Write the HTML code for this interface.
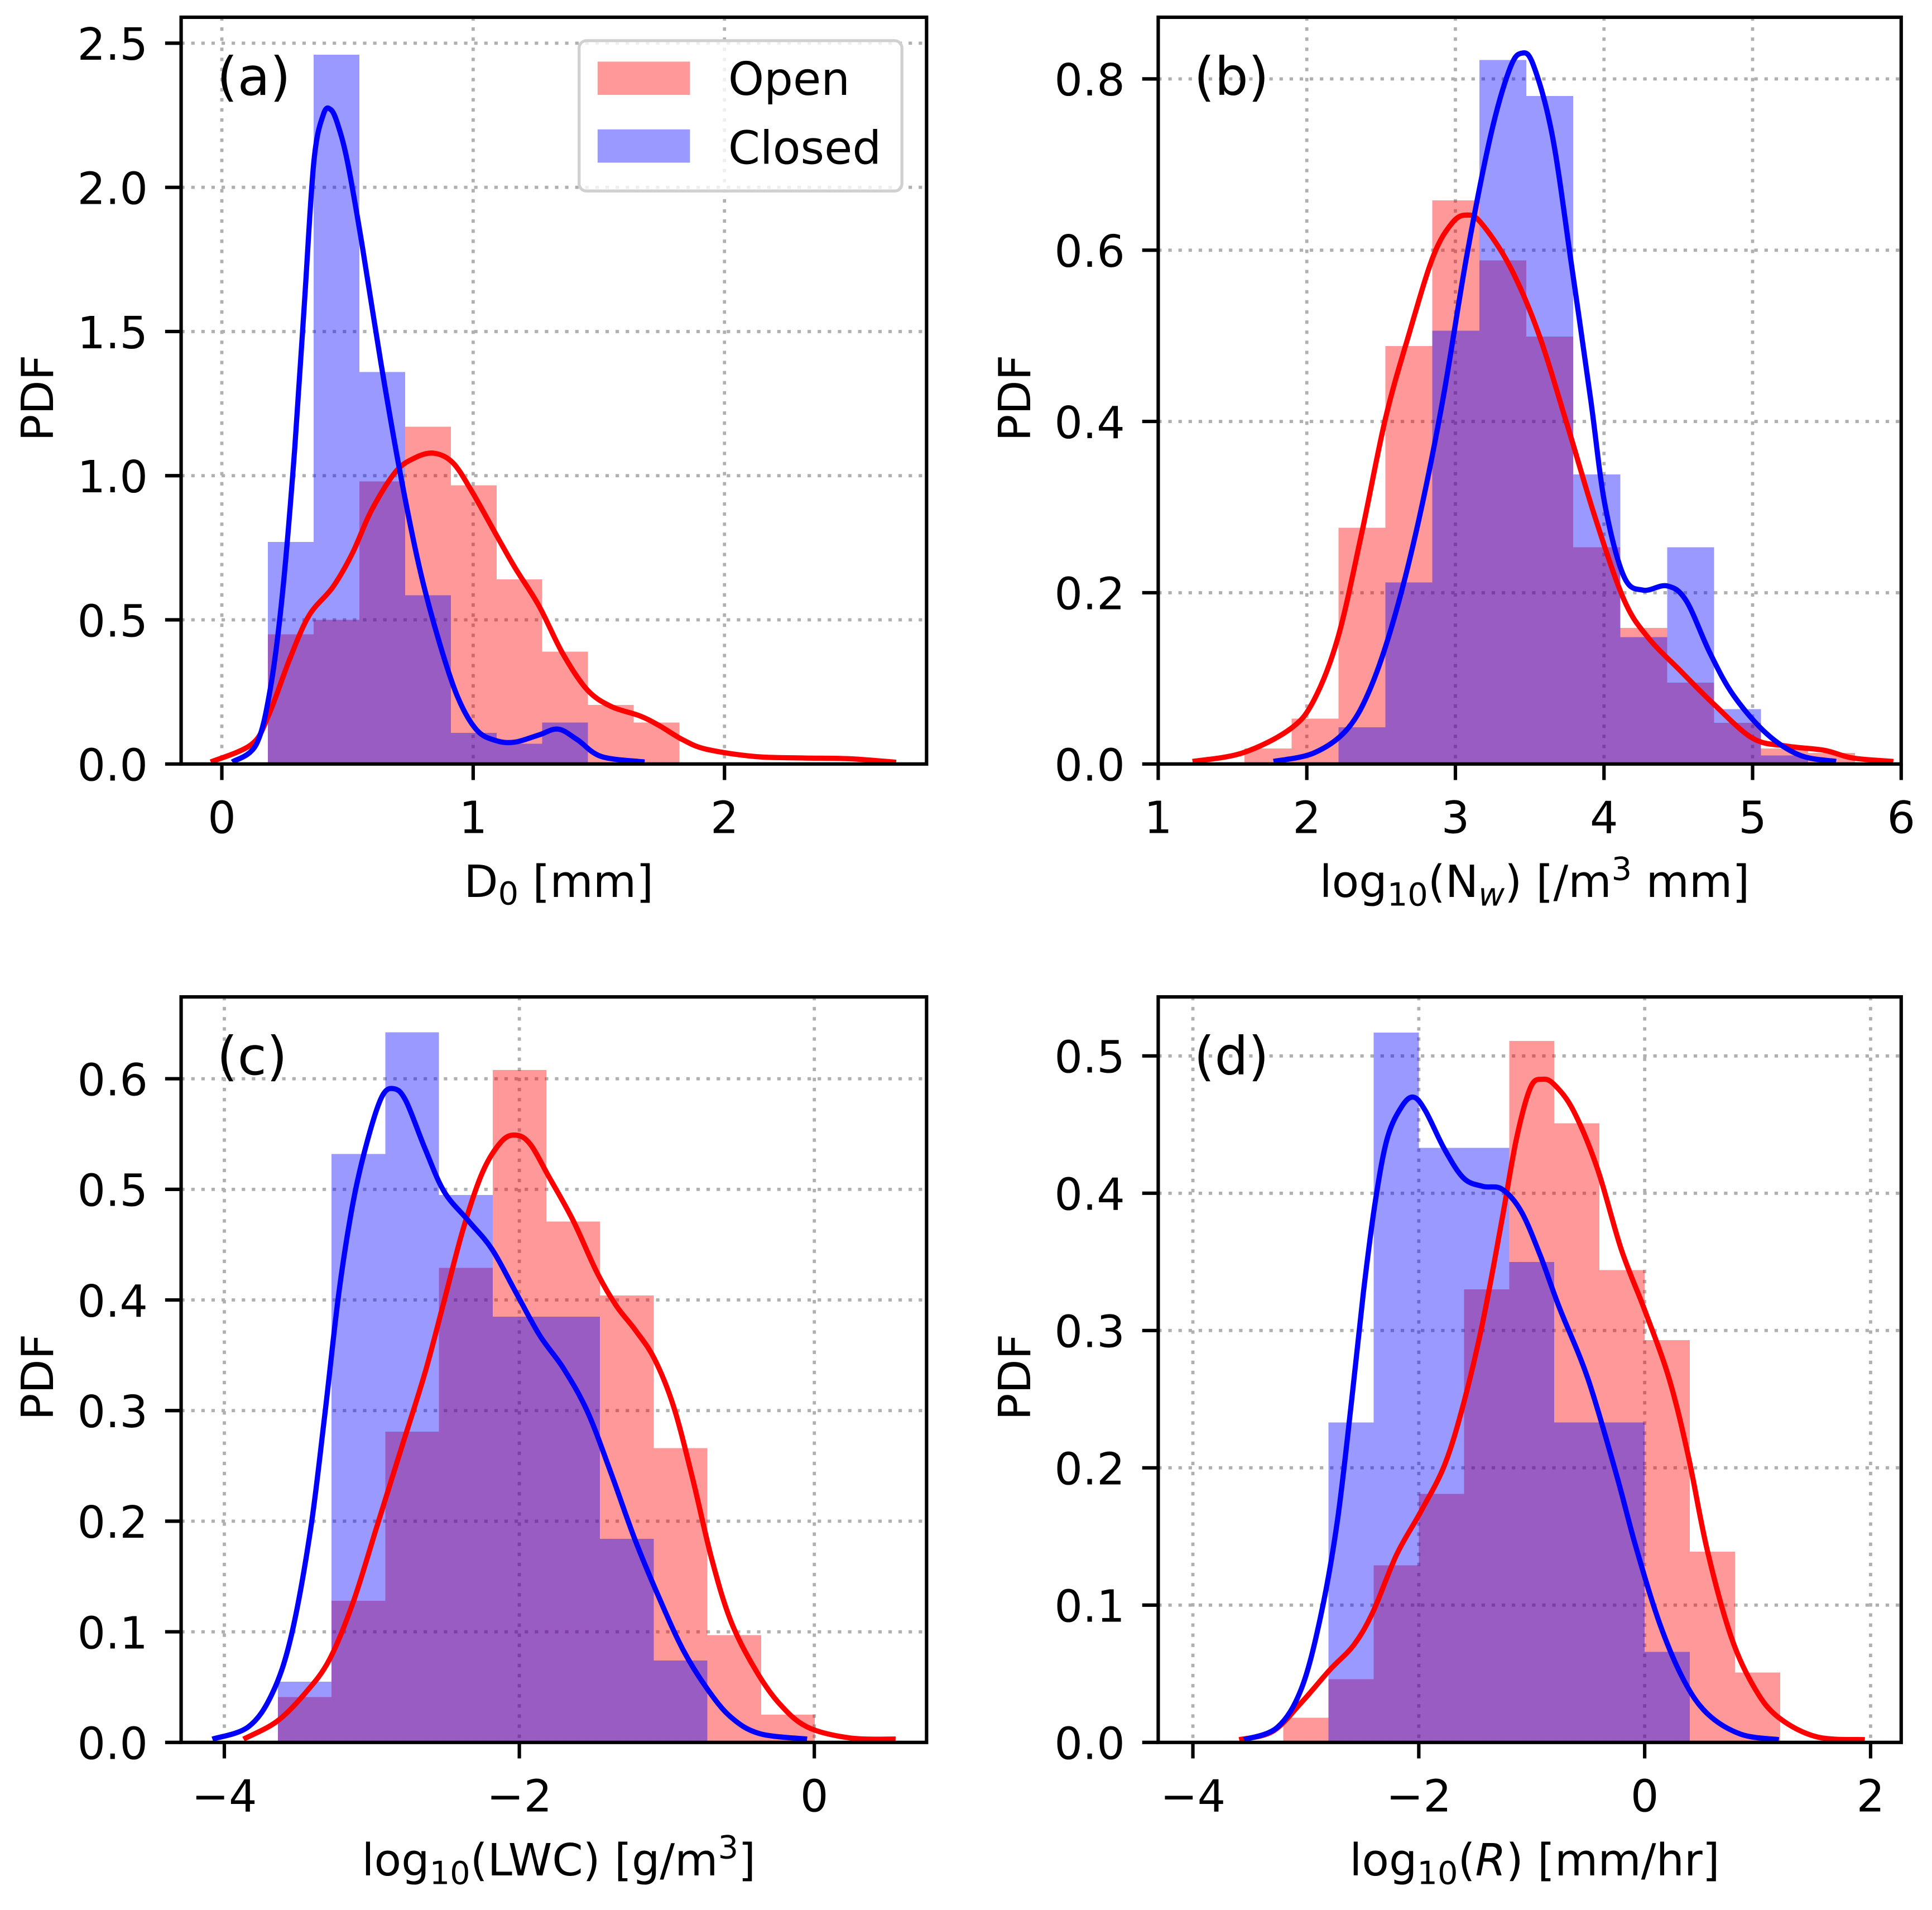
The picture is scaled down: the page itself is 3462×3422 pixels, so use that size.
<!DOCTYPE html>
<html><head><meta charset="utf-8">
<style>
html,body{margin:0;padding:0;background:#fff;}
svg{display:block;}
text{font-family:"DejaVu Sans","Liberation Sans",sans-serif;fill:#000;}
</style></head>
<body>
<svg id="fig" width="3462" height="3422" viewBox="0 0 1568 1550" preserveAspectRatio="none" xmlns="http://www.w3.org/2000/svg"></svg>
<script>
// ---------- Panel (a) D0 ----------
const aEdges0 = 0.183, aBinW = 0.182;
const aOpen = [0.45,0.5,0.98,1.17,0.967,0.64,0.39,0.205,0.144];
const aClosed = [0.77,2.46,1.36,0.585,0.108,0.07,0.144];
const aOpenKdeX = [-0.044,0.118,0.185,0.271,0.347,0.442,0.519,0.595,0.690,0.766,0.843,0.919,0.995,1.091,1.167,1.262,1.357,1.453,1.548,1.663,1.739,1.834,1.929,2.12,2.311,2.501,2.683];
const aOpenKdeY = [0.007,0.068,0.167,0.366,0.515,0.614,0.730,0.879,1.012,1.061,1.078,1.045,0.945,0.796,0.680,0.548,0.382,0.258,0.200,0.167,0.134,0.084,0.051,0.026,0.021,0.018,0.006];
const aClosedKdeX = [0.042,0.137,0.194,0.242,0.290,0.328,0.366,0.404,0.433,0.461,0.5,0.557,0.633,0.709,0.786,0.862,0.938,1.014,1.091,1.167,1.262,1.338,1.415,1.51,1.682];
const aClosedKdeY = [0.007,0.068,0.267,0.598,1.094,1.591,2.088,2.253,2.270,2.219,2.088,1.806,1.391,1.012,0.682,0.432,0.233,0.118,0.081,0.076,0.101,0.121,0.084,0.026,0.007];
const aXTicks = [0,1,2];
const aYTicks = [0,0.5,1.0,1.5,2.0,2.5];

// ---------- Panel (b) Nw ----------
const bEdges0 = 1.581, bBinW = 0.316;
const bOpen = [0.018,0.053,0.276,0.488,0.658,0.588,0.499,0.253,0.159,0.095,0.048,0.018,0.013];
const bClosed = [0,0,0.043,0.212,0.506,0.822,0.78,0.338,0.148,0.253,0.064,0.01,0];
const bOpenKdeX = [1.231,1.568,1.889,2.049,2.21,2.37,2.53,2.691,2.851,2.979,3.076,3.172,3.364,3.557,3.749,3.942,4.134,4.295,4.519,4.744,5.001,5.225,5.482,5.674,5.947];
const bOpenKdeY = [0.003,0.013,0.041,0.075,0.148,0.27,0.404,0.504,0.593,0.632,0.641,0.632,0.582,0.504,0.398,0.287,0.192,0.148,0.108,0.069,0.030,0.021,0.016,0.007,0.003];
const bClosedKdeX = [1.776,2.049,2.274,2.434,2.594,2.755,2.915,3.076,3.236,3.364,3.445,3.525,3.653,3.782,3.91,4.006,4.134,4.263,4.423,4.552,4.712,4.872,5.097,5.322,5.562];
const bClosedKdeY = [0.003,0.013,0.041,0.091,0.174,0.286,0.425,0.593,0.733,0.811,0.830,0.816,0.733,0.582,0.426,0.303,0.219,0.203,0.208,0.191,0.130,0.080,0.035,0.010,0.003];
const bXTicks = [1,2,3,4,5,6];
const bYTicks = [0,0.2,0.4,0.6,0.8];

// ---------- Panel (c) LWC ----------
const cEdges0 = -3.637, cBinW = 0.364;
const cOpen = [0.041,0.128,0.281,0.429,0.608,0.471,0.404,0.266,0.097,0.025];
const cClosed = [0.055,0.532,0.642,0.495,0.385,0.385,0.184,0.074,0,0];
const cOpenKdeX = [-3.870,-3.644,-3.449,-3.287,-3.126,-2.964,-2.802,-2.640,-2.510,-2.381,-2.251,-2.123,-2.024,-1.927,-1.798,-1.636,-1.474,-1.344,-1.215,-1.085,-0.955,-0.826,-0.696,-0.567,-0.405,-0.243,-0.049,0.243,0.551];
const cOpenKdeY = [0.003,0.019,0.045,0.075,0.127,0.196,0.265,0.334,0.399,0.464,0.515,0.543,0.549,0.541,0.511,0.472,0.425,0.395,0.373,0.347,0.304,0.239,0.166,0.110,0.067,0.036,0.014,0.004,0.003];
const cClosedKdeX = [-4.081,-3.838,-3.676,-3.547,-3.417,-3.320,-3.223,-3.126,-3.028,-2.931,-2.850,-2.769,-2.640,-2.510,-2.348,-2.186,-2.024,-1.862,-1.700,-1.538,-1.377,-1.215,-1.053,-0.891,-0.729,-0.567,-0.372,-0.049];
const cClosedKdeY = [0.003,0.014,0.044,0.096,0.191,0.295,0.407,0.489,0.545,0.584,0.591,0.580,0.537,0.498,0.472,0.446,0.407,0.368,0.338,0.299,0.243,0.183,0.131,0.084,0.049,0.023,0.008,0.003];
const cXTicks = [-4,-2,0];
const cYTicks = [0,0.1,0.2,0.3,0.4,0.5,0.6];

// ---------- Panel (d) R ----------
const dEdges0 = -3.2, dBinW = 0.4;
const dOpen = [0.018,0.046,0.129,0.181,0.33,0.511,0.451,0.344,0.293,0.139,0.051];
const dClosed = [0,0.233,0.517,0.433,0.433,0.35,0.233,0.233,0.066,0,0];
const dOpenKdeX = [-3.590,-3.294,-3.040,-2.786,-2.575,-2.406,-2.195,-1.983,-1.772,-1.603,-1.434,-1.265,-1.137,-1.011,-0.905,-0.799,-0.630,-0.419,-0.207,0.004,0.216,0.385,0.554,0.765,0.977,1.188,1.526,1.949];
const dOpenKdeY = [0.002,0.008,0.029,0.053,0.071,0.095,0.137,0.168,0.202,0.247,0.306,0.380,0.439,0.477,0.483,0.479,0.460,0.418,0.359,0.314,0.265,0.209,0.140,0.077,0.039,0.018,0.004,0.002];
const dClosedKdeX = [-3.548,-3.252,-3.040,-2.871,-2.723,-2.596,-2.490,-2.385,-2.279,-2.152,-2.047,-1.941,-1.772,-1.603,-1.433,-1.264,-1.095,-0.926,-0.757,-0.503,-0.250,-0.080,0.131,0.342,0.554,0.850,1.188];
const dClosedKdeY = [0.002,0.011,0.039,0.091,0.160,0.248,0.328,0.394,0.440,0.463,0.470,0.460,0.432,0.411,0.405,0.403,0.387,0.355,0.317,0.265,0.195,0.143,0.087,0.046,0.021,0.006,0.002];
const dXTicks = [-4,-2,0,2];
const dYTicks = [0,0.1,0.2,0.3,0.4,0.5];

const NS = "http://www.w3.org/2000/svg";
const svg = document.getElementById('fig');
function mk(tag, attrs, parent){
  const e = document.createElementNS(NS, tag);
  for (const k in attrs) e.setAttribute(k, attrs[k]);
  (parent||svg).appendChild(e);
  return e;
}
function fmt(v, dec){
  const s = v.toFixed(dec);
  return s.replace('-', '\u2212');
}
function smoothPath(pts){
  let d = 'M' + pts[0][0].toFixed(2) + ',' + pts[0][1].toFixed(2);
  for (let i=0;i<pts.length-1;i++){
    const p0 = pts[i-1]||pts[i], p1 = pts[i], p2 = pts[i+1], p3 = pts[i+2]||p2;
    const c1x = p1[0]+(p2[0]-p0[0])/6, c1y = p1[1]+(p2[1]-p0[1])/6;
    const c2x = p2[0]-(p3[0]-p1[0])/6, c2y = p2[1]-(p3[1]-p1[1])/6;
    d += ' C'+c1x.toFixed(2)+','+c1y.toFixed(2)+' '+c2x.toFixed(2)+','+c2y.toFixed(2)+' '+p2[0].toFixed(2)+','+p2[1].toFixed(2);
  }
  return d;
}

const FS = 36;
function panel(P){
  const g = mk('g', {});
  
  
  const sx = v => P.L + (v - P.xmin) / (P.xmax - P.xmin) * (P.R - P.L);
  const sy = v => P.B - (v - P.ymin) / (P.ymax - P.ymin) * (P.B - P.T);
  const clipId = 'clip-' + P.id;
  const cp = mk('clipPath', {id: clipId}, g);
  mk('rect', {x:P.L, y:P.T, width:P.R-P.L, height:P.B-P.T}, cp);
  const grid = mk('g', {'clip-path':'url(#'+clipId+')'}, g);
  
  
  P.xticks.forEach(t => {
    mk('line', {x1:sx(t), x2:sx(t), y1:P.T, y2:P.B, stroke:'#b0b0b0', 'stroke-width':2.6, 'stroke-dasharray':'2.8,5.4'}, grid);
  });
  P.yticks.forEach(t => {
    mk('line', {x1:P.L, x2:P.R, y1:sy(t), y2:sy(t), stroke:'#b0b0b0', 'stroke-width':2.6, 'stroke-dasharray':'2.8,5.4'}, grid);
  });
  const hist = (vals, color, name) => {
    const hg = mk('g', {'clip-path':'url(#'+clipId+')'}, g);
    
    
    vals.forEach((v, i) => {
      if (v <= 0) return;
      const x0 = P.e0 + i * P.bw, x1 = x0 + P.bw;
      const r = mk('rect', {x:sx(x0), y:sy(v), width:sx(x1)-sx(x0), height:sy(0)-sy(v), fill:color, 'fill-opacity':0.4, 'shape-rendering':'crispEdges'}, hg);
      
      
    });
  };
  hist(P.open, '#ff0000', 'open-histogram-' + P.id);
  hist(P.closed, '#0000ff', 'closed-histogram-' + P.id);
  const line = (xs, ys, color, name) => {
    const pts = xs.map((x, i) => [sx(x), sy(ys[i])]);
    const p = mk('path', {d:smoothPath(pts), fill:'none', stroke:color, 'stroke-width':4.2, 'stroke-linejoin':'round', 'clip-path':'url(#'+clipId+')'}, g);
    
    
  };
  line(P.okx, P.oky, '#ff0000', 'open-kde-line-' + P.id);
  line(P.ckx, P.cky, '#0000ff', 'closed-kde-line-' + P.id);
  const fr = mk('rect', {x:P.L, y:P.T, width:P.R-P.L, height:P.B-P.T, fill:'none', stroke:'#000', 'stroke-width':2.8}, g);
  
  
  P.xticks.forEach(t => {
    mk('line', {x1:sx(t), x2:sx(t), y1:P.B, y2:P.B+13, stroke:'#000', 'stroke-width':2.8}, g);
    const tx = mk('text', {x:sx(t), y:P.B+56, 'text-anchor':'middle', 'font-size':FS}, g);
    tx.textContent = fmt(t, 0);
    
    
  });
  P.yticks.forEach(t => {
    mk('line', {x1:P.L-13, x2:P.L, y1:sy(t), y2:sy(t), stroke:'#000', 'stroke-width':2.8}, g);
    const tx = mk('text', {x:P.L-27, y:sy(t)+13.5, 'text-anchor':'end', 'font-size':FS}, g);
    tx.textContent = fmt(t, 1);
    
    
  });
  const cy = (P.T + P.B) / 2;
  const yl = mk('text', {x:0, y:0, 'text-anchor':'middle', 'font-size':FS, transform:'translate('+(P.L-104)+','+(cy+6)+') rotate(-90)'}, g);
  yl.textContent = 'PDF';
  
  
  const xl = mk('text', {x:(P.L+P.R)/2+4, y:P.B+108, 'text-anchor':'middle', 'font-size':FS}, g);
  xl.innerHTML = P.xlabel;
  
  
  const pl = mk('text', {x:P.L+29, y:P.T+63, 'font-size':43}, g);
  pl.textContent = '(' + P.id + ')';
  
  
  return {g, sx, sy};
}

panel({id:'a', L:147, R:752, T:14, B:620, xmin:-0.162, xmax:2.804, ymin:0, ymax:2.59,
  e0:aEdges0, bw:aBinW, open:aOpen, closed:aClosed,
  okx:aOpenKdeX, oky:aOpenKdeY, ckx:aClosedKdeX, cky:aClosedKdeY,
  xticks:aXTicks, yticks:aYTicks,
  xlabel:'D<tspan font-size="26" dy="6">0</tspan><tspan dy="-6"> [mm]</tspan>'});
panel({id:'b', L:940, R:1543, T:14, B:620, xmin:1, xmax:6, ymin:0, ymax:0.872,
  e0:bEdges0, bw:bBinW, open:bOpen, closed:bClosed,
  okx:bOpenKdeX, oky:bOpenKdeY, ckx:bClosedKdeX, cky:bClosedKdeY,
  xticks:bXTicks, yticks:bYTicks,
  xlabel:'log<tspan font-size="26" dy="7">10</tspan><tspan dy="-7">(N</tspan><tspan font-size="26" font-style="italic" dy="7">w</tspan><tspan dy="-7">) [/m</tspan><tspan font-size="26" dy="-14">3</tspan><tspan dy="14"> mm]</tspan>'});
panel({id:'c', L:147, R:752, T:809, B:1414, xmin:-4.293, xmax:0.761, ymin:0, ymax:0.674,
  e0:cEdges0, bw:cBinW, open:cOpen, closed:cClosed,
  okx:cOpenKdeX, oky:cOpenKdeY, ckx:cClosedKdeX, cky:cClosedKdeY,
  xticks:cXTicks, yticks:cYTicks,
  xlabel:'log<tspan font-size="26" dy="7">10</tspan><tspan dy="-7">(LWC) [g/m</tspan><tspan font-size="26" dy="-14">3</tspan><tspan dy="14">]</tspan>'});
panel({id:'d', L:940, R:1543, T:809, B:1414, xmin:-4.307, xmax:2.271, ymin:0, ymax:0.543,
  e0:dEdges0, bw:dBinW, open:dOpen, closed:dClosed,
  okx:dOpenKdeX, oky:dOpenKdeY, ckx:dClosedKdeX, cky:dClosedKdeY,
  xticks:dXTicks, yticks:dYTicks,
  xlabel:'log<tspan font-size="26" dy="7">10</tspan><tspan dy="-7">(</tspan><tspan font-style="italic">R</tspan><tspan>) [mm/hr]</tspan>'});

const lg = mk('g', {});


mk('rect', {x:470, y:33, width:262, height:122, rx:6, fill:'#fff', 'fill-opacity':0.8, stroke:'#d0d0d0', 'stroke-width':2.4}, lg);
const le1 = mk('rect', {x:485, y:50, width:75, height:27, fill:'#ff0000', 'fill-opacity':0.4}, lg);


const lt1 = mk('text', {x:591, y:77, 'font-size':37}, lg);
lt1.textContent = 'Open';


const le2 = mk('rect', {x:485, y:105, width:75, height:27, fill:'#0000ff', 'fill-opacity':0.4}, lg);


const lt2 = mk('text', {x:591, y:133, 'font-size':37}, lg);
lt2.textContent = 'Closed';


</script>
</body></html>
